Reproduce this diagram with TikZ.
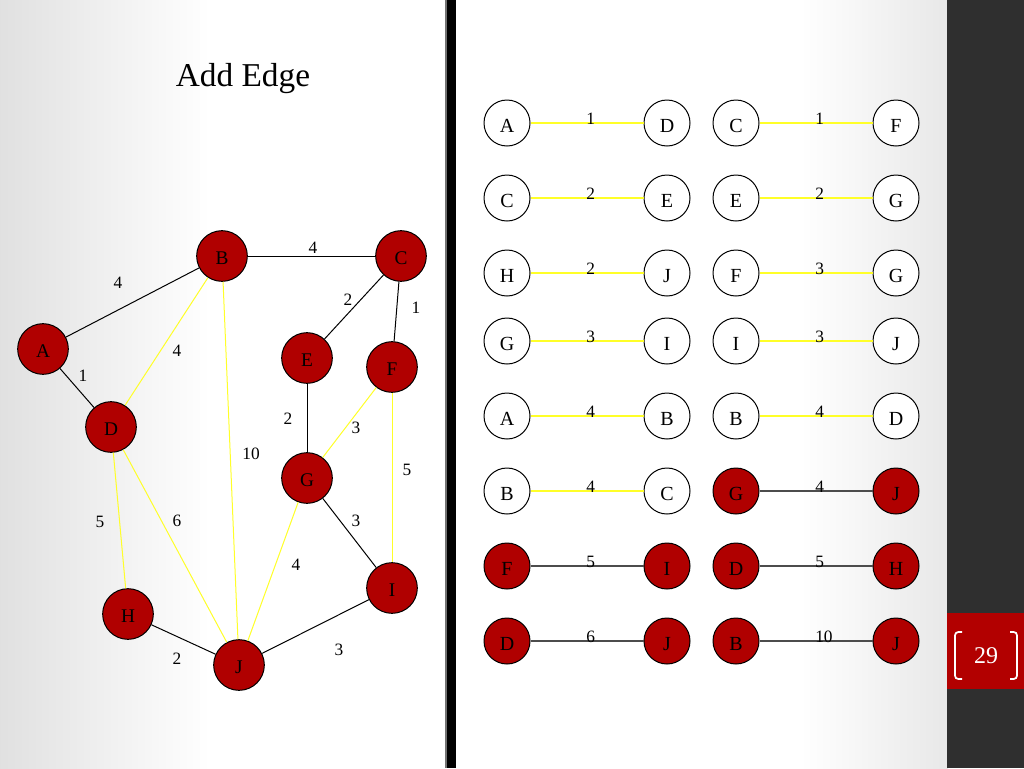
\documentclass[tikz,border=0pt]{standalone}
\usepackage{fontspec}
\setmainfont{Liberation Serif}
\definecolor{nodered}{RGB}{176,0,0}
\definecolor{sidebar}{RGB}{47,47,47}
\definecolor{badge}{RGB}{178,0,0}
\definecolor{edgeyellow}{RGB}{255,255,40}
\begin{document}
\begin{tikzpicture}[x=0.75pt,y=-0.75pt,
  gnode/.style={circle, draw=black, fill=nodered, line width=0.75pt, minimum size=38pt, inner sep=0pt, font=\fontsize{14.5}{16}\selectfont, text height=12.6pt, text depth=0pt},
  lw/.style={circle, draw=black, fill=white, line width=0.75pt, minimum size=34.5pt, inner sep=0pt, font=\fontsize{15}{18}\selectfont, text height=14.4pt, text depth=0pt},
  lr/.style={lw, fill=nodered},
  eb/.style={draw=black, line width=0.75pt},
  ey/.style={draw=edgeyellow, line width=0.75pt},
  ew/.style={draw=edgeyellow, line width=1.3pt},
  er/.style={draw=black!70, line width=1pt},
  glab/.style={font=\fontsize{13}{15}\selectfont, inner sep=0pt},
  llab/.style={font=\fontsize{13}{15}\selectfont, inner sep=0pt, anchor=west}
]
\useasboundingbox (0,0) rectangle (1024,768);
% background
\fill[white] (0,0) rectangle (1024,768);
\shade[left color=black!12, right color=white] (0,0) rectangle (210,768);
\shade[left color=white, right color=black!9] (800,0) rectangle (948,768);
\fill[black!55] (445,0) rectangle (447,768);
\fill[black] (446.5,0) rectangle (456,768);
\fill[sidebar] (947,0) rectangle (1024,768);
\fill[badge] (947,613) rectangle (1024,689);
\draw[white, line width=1.3pt, rounded corners=2.5pt] (962,632) -- (955,632) -- (955,679) -- (962,679);
\draw[white, line width=1.3pt, rounded corners=2.5pt] (1010,632) -- (1017,632) -- (1017,679) -- (1010,679);
\node[text=white, font=\fontsize{18}{20}\selectfont, inner sep=0pt] (pg) at (986,656) {29};

% title
\node[font=\fontsize{25}{29}\selectfont, inner sep=0pt] (title) at (243,79) {Add Edge};

% graph nodes
\node[gnode] (A) at (43,349) {A};
\node[gnode] (B) at (222,256) {B};
\node[gnode] (C) at (401,256) {C};
\node[gnode] (E) at (307,358) {E};
\node[gnode] (F) at (392,367) {F};
\node[gnode] (D) at (111,427) {D};
\node[gnode] (G) at (307,478) {G};
\node[gnode] (I) at (392,588) {I};
\node[gnode] (H) at (128,614) {H};
\node[gnode] (J) at (239,665) {J};

% graph edges
\draw[eb] (A) -- (B);
\draw[eb] (B) -- (C);
\draw[eb] (C) -- (E);
\draw[eb] (C) -- (F);
\draw[eb] (A) -- (D);
\draw[eb] (E) -- (G);
\draw[eb] (G) -- (I);
\draw[eb] (H) -- (J);
\draw[eb] (I) -- (J);
\draw[ey] (B) -- (D);
\draw[ey] (B) -- (J);
\draw[ey] (D) -- (H);
\draw[ey] (D) -- (J);
\draw[ey] (F) -- (G);
\draw[ey] (F) -- (I);
\draw[ey] (G) -- (J);

% graph edge labels
\node[glab] (lAB) at (118,283) {4};
\node[glab] (lBC) at (313,248) {4};
\node[glab] (lCE) at (348,300) {2};
\node[glab] (lCF) at (416,308) {1};
\node[glab] (lBD) at (177,351) {4};
\node[glab] (lAD) at (83,376) {1};
\node[glab] (lEG) at (288,419) {2};
\node[glab] (lFG) at (356,428) {3};
\node[glab] (lBJ) at (251,454) {10};
\node[glab] (lFI) at (407,470) {5};
\node[glab] (lDH) at (100,522) {5};
\node[glab] (lDJ) at (177,521) {6};
\node[glab] (lGI) at (356,521) {3};
\node[glab] (lGJ) at (296,565) {4};
\node[glab] (lHJ) at (177,659) {2};
\node[glab] (lIJ) at (339,650) {3};

% sorted edge list
\foreach \y/\a/\b/\w/\s/\e/\c/\d/\v/\t/\f [count=\i] in {
  123/A/D/1/lw/ew/C/F/1/lw/ew,
  198/C/E/2/lw/ew/E/G/2/lw/ew,
  273/H/J/2/lw/ew/F/G/3/lw/ew,
  341/G/I/3/lw/ew/I/J/3/lw/ew,
  416/A/B/4/lw/ew/B/D/4/lw/ew,
  491/B/C/4/lw/ew/G/J/4/lr/er,
  566/F/I/5/lr/er/D/H/5/lr/er,
  641/D/J/6/lr/er/B/J/10/lr/er}{
  \node[\s] (L\i a) at (507,\y) {\a};
  \node[\s] (L\i b) at (667,\y) {\b};
  \draw[\e] (L\i a) -- (L\i b);
  \node[llab] (L\i w) at (586,\y-4) {\w};
  \node[\t] (L\i c) at (736,\y) {\c};
  \node[\t] (L\i d) at (896,\y) {\d};
  \draw[\f] (L\i c) -- (L\i d);
  \node[llab] (L\i v) at (815,\y-4) {\v};
}
\end{tikzpicture}
\end{document}
